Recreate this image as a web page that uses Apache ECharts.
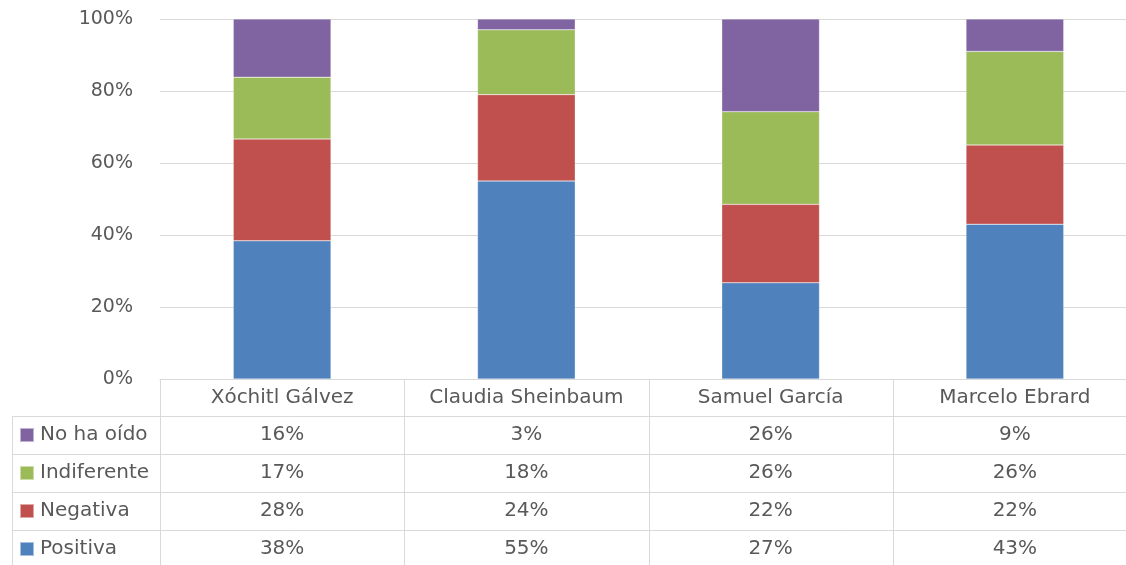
<!DOCTYPE html>
<html>
<head>
<meta charset="utf-8">
<script src="https://cdn.jsdelivr.net/npm/echarts@6/dist/echarts.min.js"></script>
<style>html,body{margin:0;padding:0;background:#fff}#c{width:1126px;height:565px}</style>
</head>
<body>
<div id="c"></div>
<script>
// ---- data ----
const categories = ['Xóchitl Gálvez', 'Claudia Sheinbaum', 'Samuel García', 'Marcelo Ebrard'];
const positiva    = [38, 55, 27, 43];
const negativa    = [28, 24, 22, 22];
const indiferente = [17, 18, 26, 26];
const noHaOido    = [16, 3, 26, 9];
const seriesNames = ['Positiva', 'Negativa', 'Indiferente', 'No ha oído'];
const yTickLabels = ['0%', '20%', '40%', '60%', '80%', '100%'];

// ---- styling ----
const colors = ['#4F81BD', '#C0504D', '#9BBB59', '#8064A2'];
const FONT = 'DejaVu Sans';
const TXT = '#595959';
const LINE = '#D9D9D9';
const FS = 20;
const FSY = 19;

const seriesValues = [positiva, negativa, indiferente, noHaOido];
const totals = categories.map((_, i) => seriesValues.reduce((s, arr) => s + arr[i], 0));
const pct = (arr) => arr.map((v, i) => v / totals[i] * 100);

const chart = echarts.init(document.getElementById('c'), null, {renderer: 'canvas'});

const option = {
  animation: false,
  textStyle: {fontFamily: FONT},
  grid: {left: 160, top: 19, width: 977, height: 360, containLabel: false, outerBoundsMode: 'none'},
  legend: {
    orient: 'vertical',
    left: 19, top: 425, padding: 0,
    data: seriesNames.slice().reverse(),
    icon: 'rect', itemWidth: 14, itemHeight: 14, itemGap: 18,
    selectedMode: false,
    textStyle: {fontFamily: FONT, fontSize: FS, color: TXT, lineHeight: 20, padding: [0, 0, 0, 1]}
  },
  xAxis: {
    type: 'category', data: categories,
    axisLine: {show: true, lineStyle: {color: LINE, width: 1}},
    axisTick: {show: false},
    axisLabel: {fontFamily: FONT, fontSize: FS, color: TXT, margin: 9, lineHeight: 20, interval: 0}
  },
  yAxis: {
    type: 'value', min: 0, max: 100, interval: 20,
    axisLine: {show: false}, axisTick: {show: false},
    splitLine: {lineStyle: {color: LINE, width: 1}},
    axisLabel: {fontFamily: FONT, fontSize: FSY, color: TXT, margin: 27,
      formatter: (v) => yTickLabels[Math.round(v / 20)]}
  },
  series: seriesNames.map((name, k) => ({
    name, type: 'bar', stack: 'total', barWidth: '40%',
    data: pct(seriesValues[k]),
    itemStyle: {color: colors[k], borderColor: 'rgba(255,255,255,0.5)', borderWidth: 0.5}
  }))
};
chart.setOption(option);

// ---- data table beneath the plot ----
const x0 = chart.convertToPixel({xAxisIndex: 0}, 0);
const x1 = chart.convertToPixel({xAxisIndex: 0}, 1);
const band = x1 - x0;
const yBase = chart.convertToPixel({yAxisIndex: 0}, 0);
const headerH = 37;
const rowH = 38;
const tableLeft = 12;
const tableRight = 1126;
const gridLeft = x0 - band / 2;
const rowsTop = yBase + headerH;
const bottom = 565;

const elements = [];
for (let r = 0; r < 4; r++) {
  const y = Math.round(rowsTop + r * rowH) + 0.5;
  elements.push({type: 'line', shape: {x1: tableLeft, y1: y, x2: tableRight, y2: y},
    style: {stroke: LINE, lineWidth: 1}, silent: true});
}
elements.push({type: 'line', shape: {x1: tableLeft + 0.5, y1: rowsTop, x2: tableLeft + 0.5, y2: bottom},
  style: {stroke: LINE, lineWidth: 1}, silent: true});
for (let c = 0; c <= categories.length; c++) {
  const x = Math.round(gridLeft + c * band) + 0.5;
  elements.push({type: 'line', shape: {x1: x, y1: yBase, x2: x, y2: bottom},
    style: {stroke: LINE, lineWidth: 1}, silent: true});
}
// rows top to bottom: No ha oído, Indiferente, Negativa, Positiva
const rowOrder = [3, 2, 1, 0];
rowOrder.forEach((k, r) => {
  const yc = rowsTop + r * rowH + rowH / 2;
  categories.forEach((_, i) => {
    const xc = chart.convertToPixel({xAxisIndex: 0}, i);
    elements.push({type: 'text', x: xc, y: yc, silent: true,
      style: {text: seriesValues[k][i] + '%', fontFamily: FONT, fontSize: FS, fill: TXT,
        align: 'center', verticalAlign: 'middle'}});
  });
});
chart.setOption({graphic: {elements}});
</script>
</body>
</html>
